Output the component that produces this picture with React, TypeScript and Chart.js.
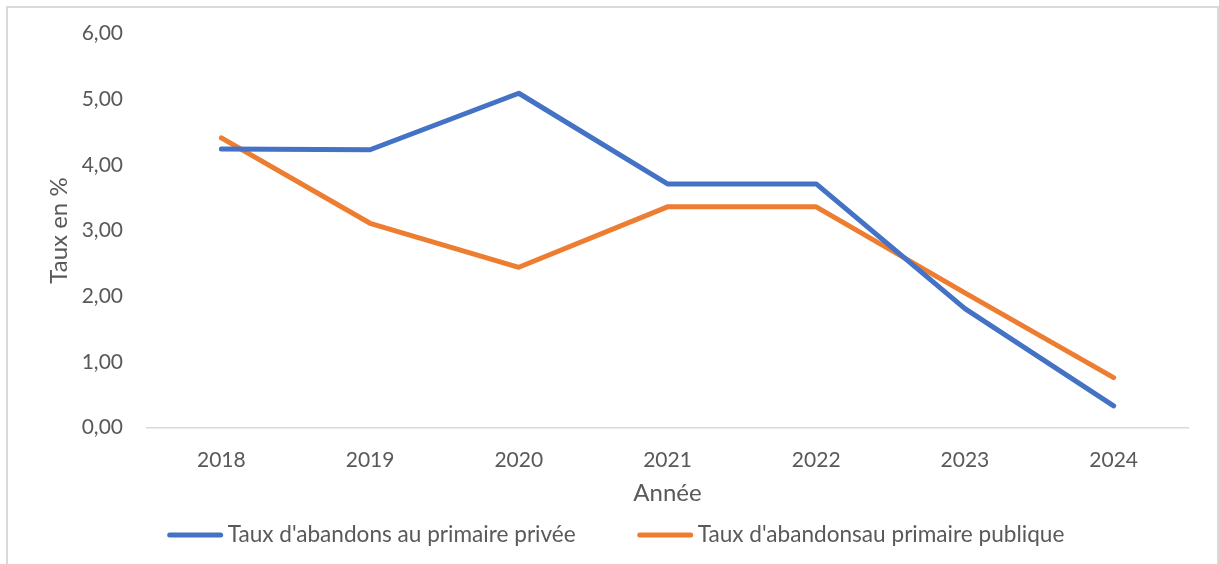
import React, { useEffect, useRef } from 'react';
import { Chart, registerables } from 'chart.js';

Chart.register(...registerables);

const years = ['2018', '2019', '2020', '2021', '2022', '2023', '2024'];
const tauxPrivee = [4.24, 4.23, 5.09, 3.71, 3.71, 1.81, 0.33];
const tauxPublique = [4.41, 3.11, 2.44, 3.36, 3.36, 2.05, 0.76];
const seriesNames = ["Taux d'abandons au primaire privée", "Taux d'abandonsau primaire publique"];
const seriesColors = ['#4472C4', '#ED7D31'];
const yTicks = [0, 1, 2, 3, 4, 5, 6];
const xTitle = 'Année';
const yTitle = 'Taux en %';

const FONT = 'Lato, "Open Sans", sans-serif';
const FS_TICK = 21;
const FS_TITLE = 24;
const FS_LEGEND = 22.6;
const TEXT = '#595959';

const legendPlugin = {
  id: 'customLegend',
  afterDraw(chart: any) {
    const ctx = chart.ctx;
    ctx.save();
    ctx.font = `${FS_LEGEND}px ${FONT}`;
    const lineW = 55;
    const gapText = 5;
    const gapItems = 62;
    const items = chart.data.datasets.map((ds: any) => ({
      label: ds.label,
      color: ds.borderColor,
      w: lineW + gapText + ctx.measureText(ds.label).width,
    }));
    const total = items.reduce((s: number, i: any) => s + i.w, 0) + gapItems * (items.length - 1);
    let x = chart.width / 2 + 4 - total / 2;
    const y = 527;
    for (const it of items) {
      ctx.strokeStyle = it.color;
      ctx.lineWidth = 5;
      ctx.lineCap = 'round';
      ctx.beginPath();
      ctx.moveTo(x + 2, y);
      ctx.lineTo(x + lineW - 2, y);
      ctx.stroke();
      ctx.fillStyle = TEXT;
      ctx.textBaseline = 'middle';
      ctx.textAlign = 'left';
      ctx.fillText(it.label, x + lineW + gapText, y);
      x += it.w + gapItems;
    }
    ctx.restore();
  },
};

export default function App() {
  const ref = useRef<HTMLCanvasElement | null>(null);
  useEffect(() => {
    if (!ref.current) return;
    const mk = (i: number, data: number[]) => ({
      label: seriesNames[i],
      data,
      borderColor: seriesColors[i],
      backgroundColor: seriesColors[i],
      borderWidth: 5,
      pointRadius: 0,
      borderCapStyle: 'round' as const,
      borderJoinStyle: 'round' as const,
      tension: 0,
    });
    const chart = new Chart(ref.current, {
      type: 'line',
      data: {
        labels: years,
        datasets: [mk(0, tauxPrivee), mk(1, tauxPublique)],
      },
      options: {
        animation: false,
        responsive: false,
        maintainAspectRatio: false,
        layout: { padding: { left: 0, right: 28, top: 25.5, bottom: 56.5 } },
        plugins: {
          legend: { display: false },
          tooltip: { enabled: false },
        },
        scales: {
          x: {
            offset: true,
            grid: { display: false, drawTicks: false },
            border: { display: true, color: '#d9d9d9', width: 1.5 },
            ticks: { color: TEXT, font: { family: FONT, size: FS_TICK }, padding: 20, maxRotation: 0 },
            title: { display: true, text: xTitle, color: TEXT, font: { family: FONT, size: FS_TITLE }, padding: 0 },
            afterFit: (s: any) => { s.height = 80; s.paddingLeft = 0; s.paddingRight = 0; },
          },
          y: {
            min: yTicks[0],
            max: yTicks[yTicks.length - 1],
            afterBuildTicks: (s: any) => { s.ticks = yTicks.map((v) => ({ value: v })); },
            grid: { display: false, drawTicks: false },
            border: { display: false },
            ticks: {
              color: TEXT,
              font: { family: FONT, size: FS_TICK },
              padding: 24,
              callback: (v: any) => Number(v).toFixed(2).replace('.', ','),
            },
            title: { display: true, text: yTitle, color: TEXT, font: { family: FONT, size: FS_TITLE }, padding: { top: 37, bottom: 0 } },
            afterFit: (s: any) => { s.width = 139; s.paddingTop = 0; s.paddingBottom = 0; },
          },
        },
      },
      plugins: [legendPlugin],
    });
    return () => chart.destroy();
  }, []);

  return (
    <div style={{ position: 'fixed', inset: 0, overflow: 'hidden', background: '#fff' }}>
      <div
        style={{
          position: 'absolute',
          left: 6,
          top: 6,
          width: 1209,
          height: 600,
          borderLeft: '2px solid #d9d9d9',
          borderTop: '2px solid #d9d9d9',
          borderRight: '2px solid #d9d9d9',
        }}
      />
      <canvas ref={ref} width={1208} height={556} style={{ position: 'absolute', left: 8, top: 8, width: 1208, height: 556 }} />
    </div>
  );
}
